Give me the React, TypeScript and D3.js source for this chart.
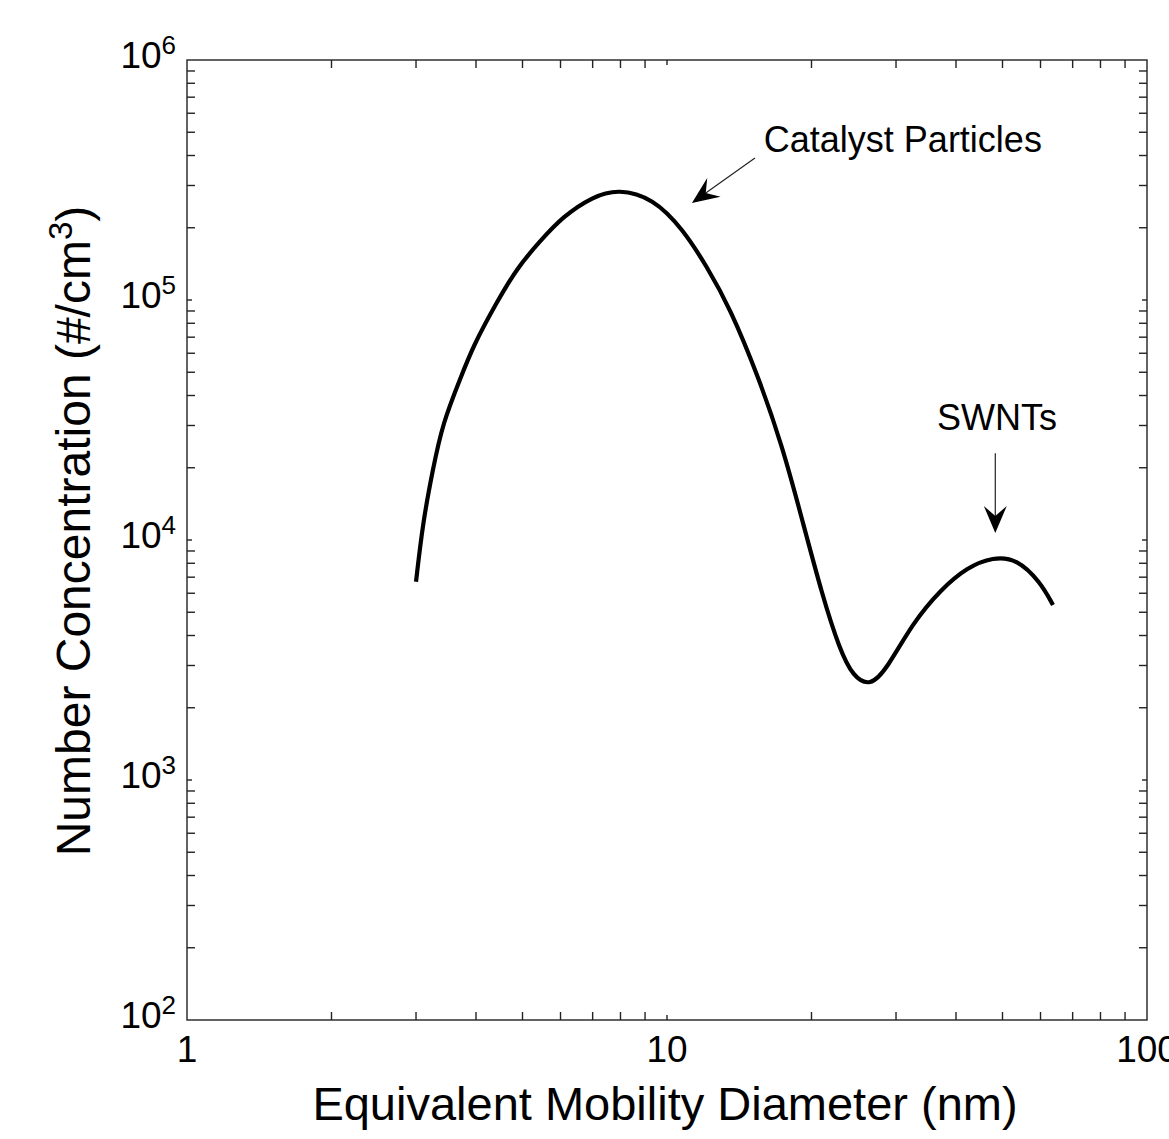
import React, { useEffect, useRef } from 'react';
import * as d3 from 'd3';

// size distribution (nm, #/cm3)
const diameters = [3.0, 3.1, 3.25, 3.41, 3.71, 3.94, 4.42, 4.87, 5.44, 6.07, 7.01, 7.91, 9.35, 10.8, 12.1, 13.5, 15.6, 17.4, 18.9, 21.1, 22.9, 24.4, 26.5, 28.7, 32.5, 37.1, 42.2, 47.8, 53.6, 59.9, 63.7];
const concentrations = [6700, 11800, 19600, 30700, 47000, 64000, 98000, 136000, 176000, 223000, 270000, 290000, 266000, 197000, 138000, 93500, 46400, 24400, 13300, 5790, 3500, 2700, 2450, 2900, 4510, 6190, 7700, 8500, 8350, 6700, 5360];

const xTicks = [1, 10, 100];
const yExponents = [2, 3, 4, 5, 6];

// annotations: label position and arrow (from -> to) in data units
const annotations = [
    { text: 'Catalyst Particles', x: 31.0, y: 414000, from: [15.25, 390700], to: [11.27, 253700] },
    { text: 'SWNTs', x: 48.7, y: 28700, from: [48.3, 23000], to: [48.3, 10700] },
];

const FONT = '"Liberation Sans", Arial, sans-serif';

export default function App() {
    const ref = useRef<SVGSVGElement | null>(null);

    useEffect(() => {
        const svg = d3.select(ref.current);
        svg.selectAll('*').remove();
        const width = 1169, height = 1139;
        const margin = { top: 60, left: 187 };
        const plotW = 960, plotH = 960;

        const x = d3.scaleLog().domain([1, 100]).range([margin.left, margin.left + plotW]);
        const y = d3.scaleLog().domain([100, 1e6]).range([margin.top + plotH, margin.top]);
        const x0 = margin.left, x1 = margin.left + plotW, y0 = margin.top + plotH, y1 = margin.top;

        svg.attr('viewBox', `0 0 ${width} ${height}`).attr('width', width).attr('height', height);
        svg.append('rect').attr('width', width).attr('height', height).attr('fill', '#fff');

        const axes = svg.append('g').attr('stroke', '#222').attr('stroke-width', 1.4);

        // x ticks, bottom and top, pointing in
        const xMinor = d3.range(2, 100).filter(v => v < 10 ? true : v % 10 === 0);
        xMinor.forEach(v => {
            const len = xTicks.includes(v) ? 5 : 8;
            axes.append('line').attr('x1', x(v)).attr('x2', x(v)).attr('y1', y0).attr('y2', y0 - len);
            axes.append('line').attr('x1', x(v)).attr('x2', x(v)).attr('y1', y1).attr('y2', y1 + len);
        });
        // y ticks, left and right
        for (let e = 2; e < 6; e++) {
            for (let m = 1; m < 10; m++) {
                const v = m * Math.pow(10, e);
                if (v === 100) continue;
                const len = m === 1 ? 5 : 8;
                axes.append('line').attr('x1', x0).attr('x2', x0 + len).attr('y1', y(v)).attr('y2', y(v));
                axes.append('line').attr('x1', x1).attr('x2', x1 - len).attr('y1', y(v)).attr('y2', y(v));
            }
        }
        axes.append('rect').attr('x', x0).attr('y', y1).attr('width', plotW).attr('height', plotH)
            .attr('fill', 'none');

        // tick labels
        xTicks.forEach(v => {
            svg.append('text').attr('x', x(v)).attr('y', y0 + 42)
                .attr('text-anchor', 'middle').attr('font-family', FONT).attr('font-size', 37)
                .text(String(v));
        });
        yExponents.forEach(e => {
            const t = svg.append('text').attr('x', x0 - 11).attr('y', y(Math.pow(10, e)) + 8)
                .attr('text-anchor', 'end').attr('font-family', FONT).attr('font-size', 37);
            t.append('tspan').text('10');
            t.append('tspan').attr('dy', -14).attr('font-size', 26).text(String(e));
        });

        // axis titles
        svg.append('text').attr('x', (x0 + x1) / 2 - 2).attr('y', 1120)
            .attr('text-anchor', 'middle').attr('font-family', FONT).attr('font-size', 47)
            .text('Equivalent Mobility Diameter (nm)');
        const yt = svg.append('text').attr('transform', `translate(90,531) rotate(-90)`)
            .attr('text-anchor', 'middle').attr('font-family', FONT).attr('font-size', 48);
        yt.append('tspan').text('Number Concentration (#/cm');
        yt.append('tspan').attr('dy', -18).attr('font-size', 33).text('3');
        yt.append('tspan').attr('dy', 18).text(')');

        // curve
        const pts = diameters.map((d, i) => [x(d), y(concentrations[i])] as [number, number]);
        svg.append('path')
            .attr('d', d3.line().curve(d3.curveBasis)(pts))
            .attr('fill', 'none').attr('stroke', '#000').attr('stroke-width', 4.2)
            .attr('stroke-linejoin', 'round');

        // annotations
        annotations.forEach(a => {
            svg.append('text').attr('x', x(a.x)).attr('y', y(a.y))
                .attr('text-anchor', 'middle').attr('font-family', FONT).attr('font-size', 36)
                .text(a.text);
            const fx = x(a.from[0]), fy = y(a.from[1]);
            const tx = x(a.to[0]), ty = y(a.to[1]);
            const dx = tx - fx, dy = ty - fy, L = Math.hypot(dx, dy);
            const ux = dx / L, uy = dy / L, px = -uy, py = ux;
            const back = 27, notch = 17, half = 11.5;
            svg.append('line').attr('x1', fx).attr('y1', fy)
                .attr('x2', tx - ux * notch).attr('y2', ty - uy * notch)
                .attr('stroke', '#222').attr('stroke-width', 1.2);
            const head = [
                [tx, ty],
                [tx - ux * back + px * half, ty - uy * back + py * half],
                [tx - ux * notch, ty - uy * notch],
                [tx - ux * back - px * half, ty - uy * back - py * half],
            ];
            svg.append('path').attr('d', 'M' + head.map(p => p.join(',')).join('L') + 'Z')
                .attr('fill', '#000');
        });
    }, []);

    return <svg ref={ref} style={{ position: 'absolute', left: 0, top: 0 }} />;
}
